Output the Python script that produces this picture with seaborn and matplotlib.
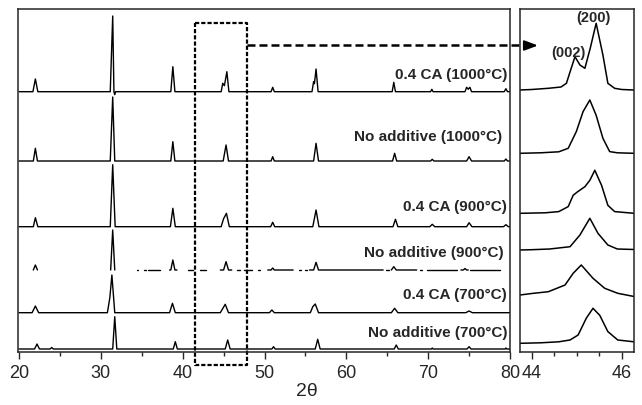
import numpy as np
import pandas as pd
import matplotlib
matplotlib.use("Agg")
import matplotlib.pyplot as plt
import seaborn as sns

OUT_PATH = "out.png"
NAN = np.nan

# row labels, bottom to top
LABELS = [
    "No additive (700°C)",
    "0.4 CA (700°C)",
    "No additive (900°C)",
    "0.4 CA (900°C)",
    "No additive (1000°C)",
    "0.4 CA (1000°C)",
]

# full scan 20-80 deg, vertices (2theta, counts above baseline)
NADD_700_X = [20, 21.9, 22.2, 22.5, 23.8, 24.0, 24.2, 31.45, 31.7, 31.95, 38.85, 39.1, 39.35, 45.2, 45.5, 45.8,
              50.9, 51.1, 51.3, 56.2, 56.5, 56.8, 65.85, 66.1, 66.35, 70.4, 70.5, 70.6, 74.75, 75.0, 75.25,
              79.4, 79.5, 79.6, 80]
NADD_700_Y = [0, 0, 5, 0, 0, 1.5, 0, 0, 32.3, 0, 0, 7.3, 0, 0, 9, 0,
              0, 2.3, 0, 0, 9.7, 0, 0, 4, 0, 0, 1, 0, 0, 2.3, 0,
              0, 1, 0, 0]

CA_700_X = [20, 21.6, 22.0, 22.4, 30.8, 31.1, 31.35, 31.7, 38.4, 38.75, 39.1, 44.6, 45.2, 45.6,
            50.6, 50.9, 51.2, 55.6, 55.9, 56.2, 56.6, 65.5, 65.9, 66.3, 74.6, 75.0, 75.4, 80]
CA_700_Y = [0, 0, 6.7, 0, 0, 15, 37.7, 0, 0, 9.4, 0, 0, 8.4, 0,
            0, 2.7, 0, 0, 6, 8.7, 0, 0, 4.4, 0, 0, 1.7, 0, 0]

# this trace is broken in the original print, NaN marks the gaps
NADD_900_X = [21.75, 22.0, 22.25, NAN, 31.2, 31.45, 31.7, NAN, 34.4, 34.6, NAN, 35.3, 35.5, NAN, 35.8, 37.2, NAN,
              38.4, 38.55, 38.8, 39.05, 39.3, NAN, 40.7, 41.3, NAN, 42.1, 42.9, NAN, 44.6, 45.0, 45.3, 45.6, 46.0, NAN,
              46.6, 47.0, NAN, 47.5, 48.5, NAN, 49.2, 49.5, NAN, 50.4, 50.8, 51.0, 51.2, 53.5, NAN,
              54.2, 54.5, NAN, 54.9, 55.2, NAN, 55.5, 56.0, 56.3, 56.6, 64.5, NAN, 64.9, 65.2, NAN,
              65.5, 65.8, 66.1, 68.6, NAN, 69.0, 69.2, NAN, 69.8, 73.5, NAN, 74.0, 74.3, 74.5, 74.7, 74.9, NAN,
              75.1, 78.8]
NADD_900_Y = [0, 5, 0, NAN, 0, 40, 0, NAN, 0, 0, NAN, 0, 0, NAN, 0, 0, NAN,
              0, 0, 10, 0, 0, NAN, 0, 0, NAN, 0, 0, NAN, 0, 0, 8.3, 0, 0, NAN,
              0, 0, NAN, 0, 0, NAN, 0, 0, NAN, 0, 0, 2, 0, 0, NAN,
              0, 0, NAN, 0, 0, NAN, 0, 0, 7.7, 0, 0, NAN, 0, 0, NAN,
              0, 3.3, 0, 0, NAN, 0, 0, NAN, 0, 0, NAN, 0, 0, 1.5, 0, 0, NAN,
              0, 0]

CA_900_X = [20, 21.75, 22.0, 22.3, 31.15, 31.45, 31.75, 38.5, 38.8, 39.1, 44.7, 45.0, 45.35, 45.7,
            50.75, 51.0, 51.25, 55.9, 56.3, 56.65, 65.7, 66.0, 66.3, 70.2, 70.5, 70.8, 74.7, 75.0, 75.35,
            79.2, 79.5, 79.8, 80]
CA_900_Y = [0, 0, 9, 0, 0, 62, 0, 0, 18.4, 0, 0, 8, 13.4, 0,
            0, 4.4, 0, 0, 16.7, 0, 0, 7.4, 0, 0, 2.4, 0, 0, 4, 0,
            0, 2, 0, 0]

NADD_1000_X = [20, 21.75, 22.0, 22.25, 31.15, 31.45, 31.7, 38.55, 38.8, 39.05, 44.95, 45.3, 45.6,
               50.8, 51.0, 51.2, 56.0, 56.3, 56.6, 65.65, 65.9, 66.15, 70.3, 70.5, 70.7, 74.7, 75.0, 75.3,
               79.3, 79.5, 79.7, 80]
NADD_1000_Y = [0, 0, 12.7, 0, 0, 64, 0, 0, 19.3, 0, 0, 16, 0,
               0, 4.3, 0, 0, 17.7, 0, 0, 7.7, 0, 0, 1.7, 0, 0, 4.3, 0,
               0, 2, 0, 0]

CA_1000_X = [20, 21.7, 22.0, 22.3, 31.15, 31.45, 31.6, 31.7, 31.8, 38.55, 38.8, 39.05, 44.7, 44.9, 45.1, 45.4, 45.65,
             50.8, 51.0, 51.2, 55.8, 56.0, 56.1, 56.3, 56.55, 65.6, 65.8, 66.0, 70.3, 70.45, 70.6,
             74.5, 74.7, 74.9, 75.1, 75.3, 79.3, 79.5, 79.7, 80]
CA_1000_Y = [0, 0, 12.7, 0, 0, 75.7, 0, -3, 0, 0, 25, 0, 0, 8.4, 6, 20, 0,
             0, 4.4, 0, 0, 10, 8, 22.7, 0, 0, 9.4, 0, 0, 2.4, 0,
             0, 4.4, 2.5, 4.4, 0, 0, 3, 0, 0]

# zoom on the (002)/(200) split
Z_NADD_700_X = [43.74, 44.2, 44.6, 44.85, 45.03, 45.21, 45.36, 45.51, 45.69, 45.91, 46.27]
Z_NADD_700_Y = [0, 0.5, 1.5, 3.3, 8.3, 25, 35, 28, 11.7, 3.3, 1.5]
Z_CA_700_X = [43.74, 44.0, 44.37, 44.74, 44.92, 45.1, 45.36, 45.62, 45.91, 46.27]
Z_CA_700_Y = [0, 1.5, 3.3, 10, 21.7, 30, 16.7, 6.7, 1.7, -1.5]
Z_NADD_900_X = [43.74, 44.0, 44.4, 44.85, 45.07, 45.29, 45.47, 45.69, 45.9, 46.27]
Z_NADD_900_Y = [0, 0.3, 1, 3.3, 15, 31.7, 16.7, 5, 1, 0.5]
Z_CA_900_X = [43.74, 44.3, 44.6, 44.81, 44.92, 45.02, 45.18, 45.29, 45.4, 45.55, 45.69, 45.84, 46.27]
Z_CA_900_Y = [0, 0.5, 1.7, 6.7, 18, 21.6, 26.6, 33, 43, 28, 8, 1.7, 0]
Z_NADD_1000_X = [43.74, 44.2, 44.6, 44.81, 44.99, 45.14, 45.29, 45.43, 45.58, 45.73, 45.9, 46.27]
Z_NADD_1000_Y = [0, 0.5, 1.5, 5, 21.7, 41.7, 53.3, 38, 15, 1.7, 0.5, 0]
Z_CA_1000_X = [43.74, 44.0, 44.37, 44.65, 44.77, 44.85, 44.96, 45.07, 45.18, 45.3, 45.43, 45.58, 45.69, 45.84,
               46.0, 46.27]
Z_CA_1000_Y = [0, 0.5, 1.7, 3, 6.7, 18, 33.3, 25, 21.7, 42, 66.7, 35, 6.7, 1.7, 0.5, 0]

# vertical stacking offsets
OFFSETS_MAIN = [3, 39.3, 82, 125.3, 191, 260.3]
OFFSETS_ZOOM = [8.7, 57, 102, 138.7, 198.7, 262]
LABEL_Y = [18.7, 57, 99.3, 144.7, 215.3, 277]
LABEL_X = [79.66, 79.66, 79.17, 79.66, 79.05, 79.66]

MAIN_TRACES = [(NADD_700_X, NADD_700_Y), (CA_700_X, CA_700_Y), (NADD_900_X, NADD_900_Y),
               (CA_900_X, CA_900_Y), (NADD_1000_X, NADD_1000_Y), (CA_1000_X, CA_1000_Y)]
ZOOM_TRACES = [(Z_NADD_700_X, Z_NADD_700_Y), (Z_CA_700_X, Z_CA_700_Y), (Z_NADD_900_X, Z_NADD_900_Y),
               (Z_CA_900_X, Z_CA_900_Y), (Z_NADD_1000_X, Z_NADD_1000_Y), (Z_CA_1000_X, Z_CA_1000_Y)]

YMAX = 342.7


def to_frame(traces, offsets):
    """Long table, one unit per unbroken piece of line"""
    rows = []
    for i, ((xs, ys), off) in enumerate(zip(traces, offsets)):
        seg = 0
        for x, y in zip(xs, ys):
            if np.isnan(x):
                seg += 1
                continue
            rows.append({"two_theta": x, "intensity": y + off, "unit": f"{i}_{seg}"})
    return pd.DataFrame(rows)


def style_axis(ax):
    ax.set_yticks([])
    ax.set_ylabel("")
    ax.set_xlabel("")
    for sp in ax.spines.values():
        sp.set_linewidth(1.1)
        sp.set_visible(True)
    ax.tick_params(axis="x", which="major", direction="out", length=5, width=1.0, labelsize=13, pad=4)
    ax.tick_params(axis="x", which="minor", direction="out", length=3, width=1.0)


def main():
    sns.set_style("ticks")
    plt.rcParams["font.family"] = ["Liberation Sans", "DejaVu Sans"]

    fig = plt.figure(figsize=(6.42, 4.05), dpi=100)
    ax = fig.add_axes([17.7 / 642, 1 - 352 / 405, (510 - 17.7) / 642, YMAX / 405])
    axz = fig.add_axes([520 / 642, 1 - 352 / 405, (634 - 520) / 642, YMAX / 405])

    main_df = to_frame(MAIN_TRACES, OFFSETS_MAIN)
    sns.lineplot(data=main_df, x="two_theta", y="intensity", units="unit", estimator=None,
                 sort=False, color="black", lw=1.0, ax=ax)
    zoom_df = to_frame(ZOOM_TRACES, OFFSETS_ZOOM)
    sns.lineplot(data=zoom_df, x="two_theta", y="intensity", units="unit", estimator=None,
                 sort=False, color="black", lw=1.1, ax=axz)

    ax.set_xlim(19.84, 80)
    ax.set_ylim(0, YMAX)
    ax.set_xticks(np.arange(20, 81, 10))
    ax.set_xticks(np.arange(25, 80, 10), minor=True)
    style_axis(ax)

    axz.set_xlim(43.74, 46.27)
    axz.set_ylim(0, YMAX)
    axz.set_xticks([44, 46])
    axz.set_xticks([44.5, 45, 45.5], minor=True)
    style_axis(axz)

    for lab, x, y in zip(LABELS, LABEL_X, LABEL_Y):
        ax.text(x, y, lab, ha="right", va="center", fontsize=11, fontweight="bold")

    axz.text(45.36, 333.7, "(200)", ha="center", va="center", fontsize=10.5, fontweight="bold", clip_on=False)
    axz.text(44.82, 299.5, "(002)", ha="center", va="center", fontsize=10.5, fontweight="bold")

    # dashed box around the 44-46 region, reaching below the axis
    ax.plot([41.5, 47.84, 47.84, 41.5, 41.5], [328.7, 328.7, -13, -13, 328.7], color="black",
            lw=1.6, dashes=(1.9, 0.9), clip_on=False)
    # dashed leader to the zoom panel
    ax.plot([47.84, 81.6], [306.9, 306.9], color="black", lw=1.8, dashes=(3.2, 1.6), clip_on=False)
    axz.annotate("", xy=(44.14, 306.5), xytext=(43.9, 306.5), annotation_clip=False,
                 arrowprops=dict(arrowstyle="-|>,head_length=0.8,head_width=0.3", color="black",
                                 lw=1.5, shrinkA=0, shrinkB=0))

    fig.text(307 / 642, 1 - 391 / 405, "2θ", ha="center", va="center", fontsize=14)

    fig.savefig(OUT_PATH, dpi=100)
    plt.close(fig)


if __name__ == "__main__":
    main()
